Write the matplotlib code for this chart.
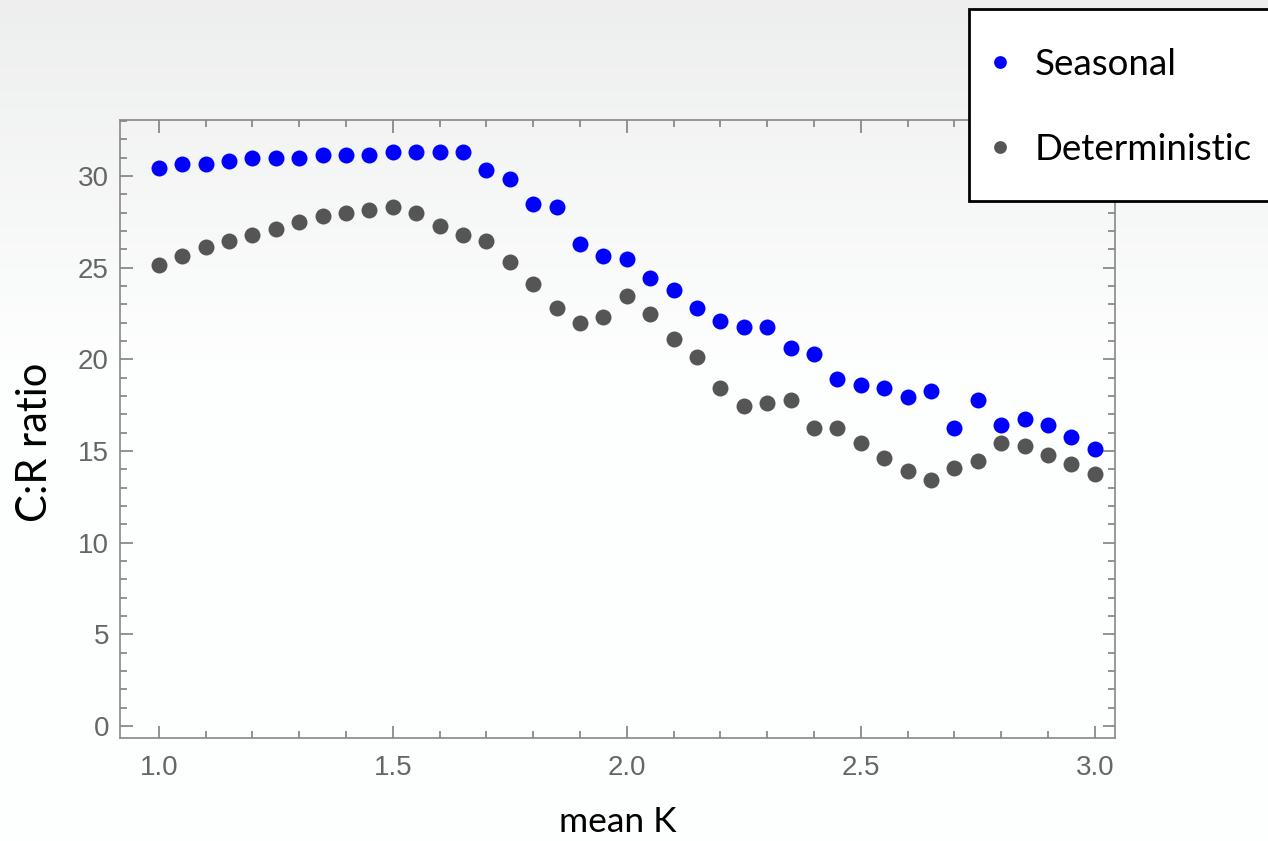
import numpy as np
import matplotlib.pyplot as plt
from matplotlib.ticker import MultipleLocator
from matplotlib.patches import Rectangle

# C:R ratio vs mean K
mean_k = [1.00, 1.05, 1.10, 1.15, 1.20, 1.25, 1.30, 1.35, 1.40, 1.45,
          1.50, 1.55, 1.60, 1.65, 1.70, 1.75, 1.80, 1.85, 1.90, 1.95,
          2.00, 2.05, 2.10, 2.15, 2.20, 2.25, 2.30, 2.35, 2.40, 2.45,
          2.50, 2.55, 2.60, 2.65, 2.70, 2.75, 2.80, 2.85, 2.90, 2.95, 3.00]

seasonal = [30.45, 30.64, 30.64, 30.82, 30.98, 30.98, 30.98, 31.16, 31.16, 31.16,
            31.33, 31.33, 31.33, 31.33, 30.31, 29.82, 28.47, 28.31, 26.31, 25.64,
            25.45, 24.45, 23.78, 22.78, 22.11, 21.78, 21.78, 20.60, 20.27, 18.94,
            18.60, 18.43, 17.94, 18.27, 16.27, 17.76, 16.43, 16.76, 16.43, 15.76, 15.09]

deterministic = [25.13, 25.64, 26.13, 26.47, 26.80, 27.13, 27.47, 27.80, 27.96, 28.13,
                 28.31, 27.96, 27.29, 26.80, 26.47, 25.31, 24.13, 22.78, 21.96, 22.29,
                 23.47, 22.45, 21.11, 20.11, 18.43, 17.43, 17.60, 17.78, 16.27, 16.27,
                 15.43, 14.60, 13.93, 13.44, 14.09, 14.44, 15.43, 15.27, 14.76, 14.27, 13.75]

W, H = 1268, 841
fig = plt.figure(figsize=(W / 100, H / 100), dpi=100)

# slide background: light grey at top fading to white
bg = fig.add_axes([0, 0, 1, 1], zorder=-1)
grad = np.ones((100, 1))
grad[:45, 0] = np.linspace(0.935, 1.0, 45)
bg.imshow(np.dstack([grad * 0.995, grad, grad * 0.998]).clip(0, 1), aspect='auto',
          extent=[0, 1, 0, 1])
bg.axis('off')

ax = fig.add_axes([120 / W, 1 - 738 / H, 995 / W, 618 / H])
ax.set_facecolor('none')

ax.plot(mean_k, seasonal, 'o', color='#0000ff', ms=11.5, mec='none', label='Seasonal')
ax.plot(mean_k, deterministic, 'o', color='#555555', ms=11.5, mec='none', label='Deterministic')

ax.set_xlim(0.917, 3.043)
ax.set_ylim(-0.66, 33.05)
ax.xaxis.set_major_locator(MultipleLocator(0.5))
ax.xaxis.set_minor_locator(MultipleLocator(0.1))
ax.yaxis.set_major_locator(MultipleLocator(5))
ax.yaxis.set_minor_locator(MultipleLocator(1))
ax.xaxis.set_major_formatter(plt.FormatStrFormatter('%.1f'))

ax.tick_params(which='both', direction='in', top=True, right=True, color='#808080',
               width=1.2, labelcolor='#666666', labelsize=20)
ax.tick_params(which='major', length=9, pad=8)
ax.tick_params(which='minor', length=5)
ax.tick_params(axis='x', which='major', pad=12)
for lab in ax.get_xticklabels() + ax.get_yticklabels():
    lab.set_family('Liberation Sans')
for s in ax.spines.values():
    s.set_color('#888888')
    s.set_linewidth(1.2)

ax.set_xlabel('mean K', fontsize=25.5, family='Lato', labelpad=18)
ax.set_ylabel('C:R ratio', fontsize=30, family='Lato')
ax.yaxis.set_label_coords(-0.066, 0.478)

# legend box sticks out past the right edge of the slide
fig.patches.append(Rectangle((969 / W, 1 - 201 / H), 0.3, 192 / H,
                             transform=fig.transFigure, facecolor='white',
                             edgecolor='black', lw=2, zorder=5))
leg = fig.legend(loc='upper left', bbox_to_anchor=(991 / W, 1 - 48 / H),
                 prop={'family': 'Lato', 'size': 26.5}, markerscale=0.8,
                 handlelength=0.5, handletextpad=0.68, labelspacing=1.4,
                 borderpad=0, borderaxespad=0, frameon=False)
leg.set_zorder(6)

fig.savefig('out.png', dpi=100)
